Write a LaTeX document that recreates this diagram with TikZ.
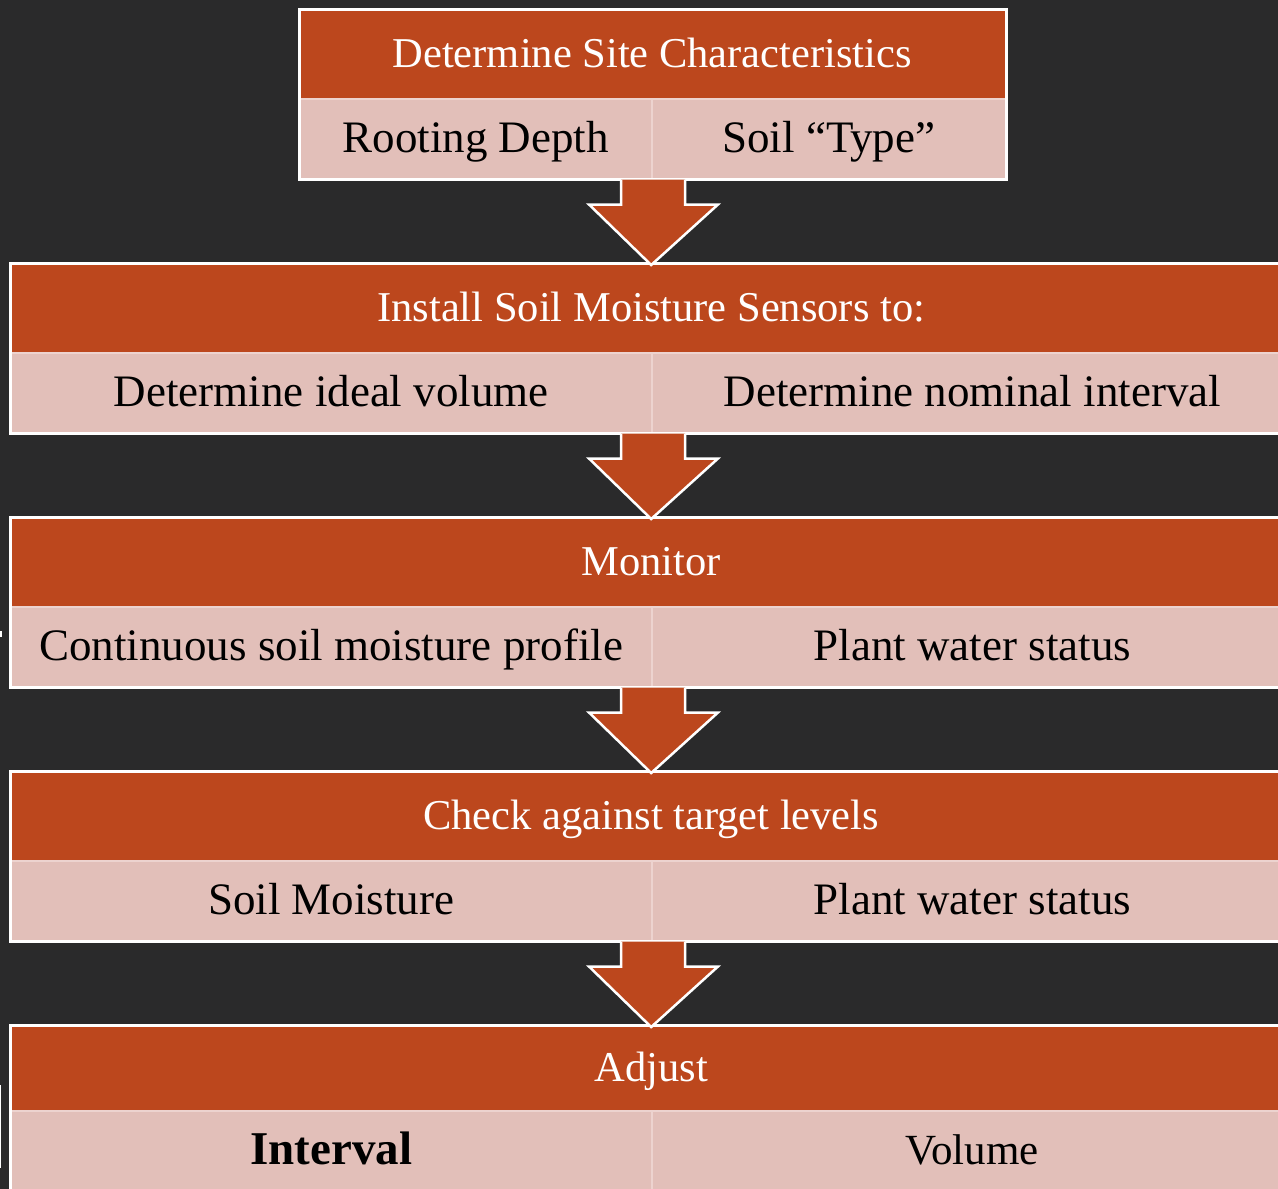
\documentclass[tikz,border=0pt]{standalone}
\usepackage{fontspec}
\setmainfont{Liberation Serif}
\usetikzlibrary{calc}
\definecolor{bg}{HTML}{2A2A2B}
\definecolor{rust}{HTML}{BC471D}
\definecolor{pinkc}{HTML}{E2BFB9}
\definecolor{pinkline}{HTML}{EDD3CF}
\tikzset{
  hdr/.style={fill=rust, text=white, inner sep=0pt, anchor=north west, minimum height=89pt, text height=28pt, text depth=0pt, font=\fontsize{42.5}{42.5}\selectfont},
  cell/.style={fill=pinkc, draw=pinkline, line width=1.5pt, text=black, inner sep=0pt, anchor=north west, minimum height=80pt, text height=30pt, text depth=3pt, font=\fontsize{45}{45}\selectfont},
  outline/.style={draw=white, line width=3pt},
  blockarrow/.style={fill=rust, draw=white, line width=2.5pt, line join=miter},
}
\newcommand{\blockarr}[2]{%
  \filldraw[blockarrow] ($(#1)+(-31.5,0)$) -- ($(#1)+(-31.5,25)$) -- ($(#1)+(-63.5,25)$) -- ($(#2)+(0,2)$) -- ($(#1)+(65.5,25)$) -- ($(#1)+(32.5,25)$) -- ($(#1)+(32.5,0)$);
}
\begin{document}
\begin{tikzpicture}[x=1pt,y=-1pt]
\fill[bg] (0,0) rectangle (1278,1189);
\useasboundingbox (0,0) rectangle (1278,1189);

% Row 1
\node[hdr, minimum width=706pt] (h1) at (299,9) {Determine Site Characteristics};
\node[cell, minimum width=352pt] (a1) at (299,98) {Rooting Depth};
\node[cell, minimum width=354pt] (b1) at (651,98) {Soil “Type”};
\draw[outline] (h1.north west) rectangle (b1.south east);

% Row 2
\node[hdr, minimum width=1282pt] (h2) at (10,263) {Install Soil Moisture Sensors to:};
\node[cell, minimum width=641pt] (a2) at (10,352) {Determine ideal volume};
\node[cell, minimum width=641pt] (b2) at (651,352) {Determine nominal interval};
\draw[outline] (h2.north west) rectangle (b2.south east);

% Row 3
\node[hdr, minimum width=1282pt] (h3) at (10,517) {Monitor};
\node[cell, minimum width=641pt] (a3) at (10,606) {Continuous soil moisture profile};
\node[cell, minimum width=641pt] (b3) at (651,606) {Plant water status};
\draw[outline] (h3.north west) rectangle (b3.south east);

% Row 4
\node[hdr, minimum width=1282pt] (h4) at (10,771) {Check against target levels};
\node[cell, minimum width=641pt] (a4) at (10,860) {Soil Moisture};
\node[cell, minimum width=641pt] (b4) at (651,860) {Plant water status};
\draw[outline] (h4.north west) rectangle (b4.south east);

% Row 5
\node[hdr, minimum width=1282pt, minimum height=85pt] (h5) at (10,1025) {Adjust};
\node[cell, minimum width=641pt, font=\fontsize{47}{47}\selectfont\bfseries] (a5) at (10,1110) {Interval};
\node[cell, minimum width=641pt, font=\fontsize{43}{43}\selectfont] (b5) at (651,1110) {Volume};
\draw[outline] (h5.north west) rectangle (b5.south east);

% Arrows
\blockarr{a1.south east}{h2.north}
\blockarr{a2.south east}{h3.north}
\blockarr{a3.south east}{h4.north}
\blockarr{a4.south east}{h5.north}

% left edge fragments
\coordinate (f1) at (0,1085);
\coordinate (f2) at (0,1168);
\draw[white, line width=2pt] (f1) -- (f2);
\coordinate (g1) at (0,631);
\coordinate (g2) at (0,637);
\draw[white, line width=3pt] (g1) -- (g2);
\end{tikzpicture}
\end{document}
